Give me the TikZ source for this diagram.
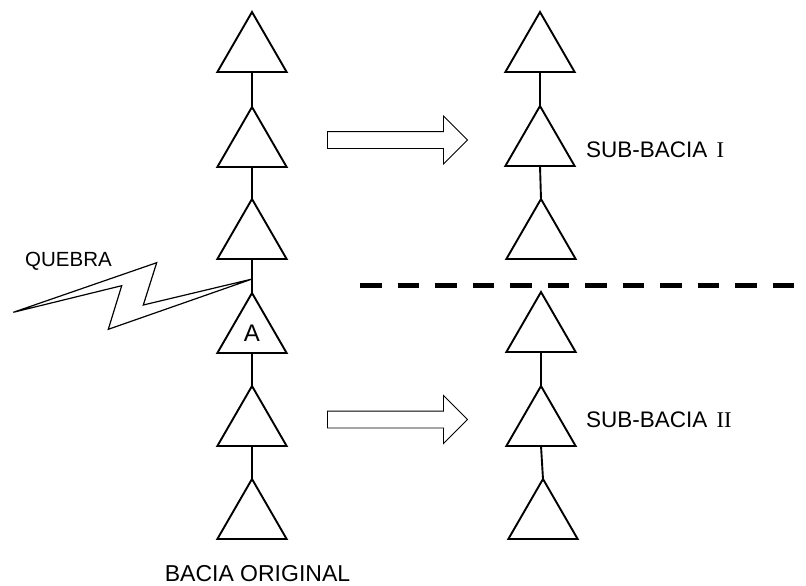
\documentclass[tikz,border=0pt]{standalone}
\usepackage{fontspec}
\setmainfont{Liberation Sans}
\newfontfamily\romanfont{Liberation Serif}
\usetikzlibrary{shapes.geometric,shapes.arrows,calc}

\begin{document}
\begin{tikzpicture}[x=1pt,y=-1pt,
  tri/.style={regular polygon, regular polygon sides=3, draw, line width=1.9pt,
    minimum size=80pt, inner sep=0pt, outer sep=0pt, fill=white,
    font=\fontsize{24}{28}\selectfont},
  link/.style={line width=1.9pt},
  blockarrow/.style={single arrow, draw, line width=0.9pt, fill=white,
    minimum height=140pt, inner xsep=0pt, inner ysep=8pt,
    single arrow head extend=15.5pt, anchor=tail},
  bolt/.style={draw, fill=white, line width=1.2pt},
  divider/.style={line width=5pt, dash pattern=on 21.5pt off 16pt},
  lbl/.style={inner sep=0pt, anchor=base west},
]
\useasboundingbox (0,0) rectangle (806,586);

% original basin: chain of six sub-basins
\node[tri] (L1) at (252,52)  {};
\node[tri] (L2) at (252,147) {};
\node[tri] (L3) at (252,239) {};
\node[tri] (L4) at (252,333) {A};
\node[tri] (L5) at (252,426) {};
\node[tri] (L6) at (252,519) {};

\coordinate (brk) at ($(L3.side 2)!0.59!(L4.corner 1)$);

% break marker (lightning bolt)
\coordinate (b1) at (13.3,312.3);
\coordinate (b2) at (156.7,262.7);
\coordinate (b3) at (143.3,305);
\coordinate (b5) at (108.3,329.3);
\coordinate (b6) at (121.7,285.7);
\draw[bolt] (b1) -- (b2) -- (b3) -- (brk) -- (b5) -- (b6) -- cycle;

\foreach \a/\b in {L1/L2,L2/L3,L3/L4,L4/L5,L5/L6}
  \draw[link] (\a.side 2) -- (\b.corner 1);

% sub-basin I
\node[tri] (R1) at (540,52)  {};
\node[tri] (R2) at (540,146) {};
\node[tri] (R3) at (541,239) {};
% sub-basin II
\node[tri] (R4) at (541,332) {};
\node[tri] (R5) at (541,426) {};
\node[tri] (R6) at (543,519) {};

\foreach \a/\b in {R1/R2,R2/R3,R4/R5,R5/R6}
  \draw[link] (\a.side 2) -- (\b.corner 1);

% dividing line between the two sub-basins
\coordinate (d1) at (360,285);
\coordinate (d2) at (794,285);
\draw[divider] (d1) -- (d2);

% block arrows
\node[blockarrow] (arr1) at (327,140) {};
\node[blockarrow] (arr2) at (327,419.5) {};

% labels
\node[lbl, font=\fontsize{20.5}{24}\selectfont] (quebra) at (25,266.5) {QUEBRA};
\node[lbl, font=\fontsize{22.5}{26}\selectfont] (sb1) at (586,157.5)
  {SUB-BACIA~\hspace{3pt}{\romanfont I}};
\node[lbl, font=\fontsize{22.5}{26}\selectfont] (sb2) at (586,427.5)
  {SUB-BACIA~\hspace{3pt}{\romanfont II}};
\node[inner sep=0pt, anchor=base, font=\fontsize{23}{27}\selectfont] (orig)
  at (257.5,581.5) {BACIA ORIGINAL};
\end{tikzpicture}
\end{document}
